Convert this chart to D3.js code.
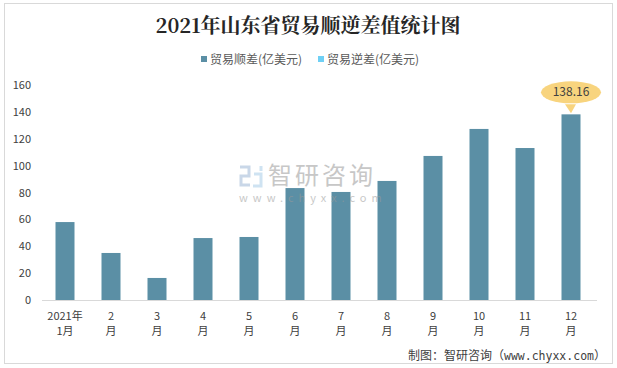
<!DOCTYPE html>
<html><head><meta charset="utf-8">
<script src="https://cdn.jsdelivr.net/npm/d3@7/dist/d3.min.js"></script>
<style>html,body{margin:0;padding:0;background:#fff;}svg{display:block;}</style>
</head><body><svg id="c" width="617" height="368"></svg>
<script>
const title = "2021年山东省贸易顺逆差值统计图";
const categories = ["2021年\n1月","2\n月","3\n月","4\n月","5\n月","6\n月","7\n月","8\n月","9\n月","10\n月","11\n月","12\n月"];
const surplus = [58.0, 35.0, 16.4, 46.1, 46.9, 83.3, 80.4, 88.6, 107.2, 127.3, 113.1, 138.16];
const deficit = [0,0,0,0,0,0,0,0,0,0,0,0];
const seriesNames = ["贸易顺差(亿美元)", "贸易逆差(亿美元)"];
const yTicks = [0,20,40,60,80,100,120,140,160];
const calloutIndex = 11;
const footer = ["制图：智研咨询（", "www.chyxx.com", "）"];

const svg = d3.select("#c");
const font = "'Microsoft YaHei','Noto Sans CJK SC','Noto Sans',sans-serif";
svg.append("rect").attr("x",4.5).attr("y",3.5).attr("width",608).attr("height",360)
  .attr("fill","#fff").attr("stroke","#d9d9d9");

svg.append("text").attr("x",308).attr("y",33).attr("text-anchor","middle")
  .attr("font-family","'Noto Serif CJK SC','Noto Sans CJK SC',serif").attr("font-weight","bold")
  .attr("font-size",20).attr("fill","#262626").text(title);

const x = d3.scaleBand().domain(categories).range([42,594]).paddingInner(0.587).paddingOuter(0.2935);
const y = d3.scaleLinear().domain([0,160]).range([300,85]);

// legend
const colors = ["#5b8fa5","#6fd0f5"];
const lg = svg.append("g").attr("font-family",font).attr("font-size",12).attr("fill","#595959");
[[201,0],[318,1]].forEach(([lx,i])=>{
  lg.append("rect").attr("x",lx).attr("y",56).attr("width",6).attr("height",6).attr("fill",colors[i]);
  lg.append("text").attr("x",lx+9).attr("y",63.5).text(seriesNames[i]);
});

// y axis
const ya = svg.append("g").attr("transform","translate(31,0)")
  .call(d3.axisLeft(y).tickValues(yTicks).tickSize(0).tickPadding(0));
ya.select(".domain").remove();
ya.selectAll("text").attr("font-family",font).attr("font-size",11).attr("fill","#404040");

// bars
svg.append("g").selectAll("rect").data(surplus).join("rect")
  .attr("x",(d,i)=>x(categories[i])).attr("width",x.bandwidth())
  .attr("y",d=>y(d)).attr("height",d=>y(0)-y(d)).attr("fill",colors[0]);

// x axis line
svg.append("line").attr("x1",42).attr("x2",597).attr("y1",300.5).attr("y2",300.5).attr("stroke","#d9d9d9");

// x labels
const xl = svg.append("g").attr("font-family",font).attr("font-size",11).attr("fill","#404040").attr("text-anchor","middle");
categories.forEach(c=>{
  const parts = c.split("\n");
  const t = xl.append("text").attr("x",x(c)+x.bandwidth()/2);
  parts.forEach((p,j)=>t.append("tspan").attr("x",x(c)+x.bandwidth()/2).attr("y",320+j*15).text(p));
});

// callout
const cx = x(categories[calloutIndex])+x.bandwidth()/2;
const cy = y(surplus[calloutIndex]);
const co = svg.append("g");
co.append("path").attr("d",`M${cx-6},${cy-10} L${cx},${cy-1} L${cx+5},${cy-10} Z`).attr("fill","#f8d47e");
co.append("ellipse").attr("cx",cx).attr("cy",cy-22).attr("rx",30).attr("ry",11).attr("fill","#f8d47e");
co.append("text").attr("x",cx).attr("y",cy-18).attr("text-anchor","middle")
  .attr("font-family",font).attr("font-size",12).attr("fill","#404040").text(surplus[calloutIndex].toFixed(2));

// watermark
const wm = svg.append("g").attr("opacity",0.55);
wm.append("path").attr("d","M240,167 h9 v9 h-8 v9 h9").attr("fill","none").attr("stroke","#9db8d6").attr("stroke-width",3);
wm.append("path").attr("d","M261,166 v5 M254,174 h7 v12 h-8").attr("fill","none").attr("stroke","#a9cde8").attr("stroke-width",3);
wm.append("text").attr("x",268).attr("y",184).attr("font-family",font).attr("font-size",24)
  .attr("letter-spacing",3).attr("fill","#9a9a9a").text("智研咨询");
wm.append("text").attr("x",239).attr("y",202).attr("font-family",font).attr("font-size",11)
  .attr("letter-spacing",5).attr("fill","#9a9a9a").text("www.chyxx.com");

// footer
const ft = svg.append("text").attr("x",606).attr("y",360).attr("text-anchor","end")
  .attr("font-family",font).attr("font-size",12).attr("fill","#404040");
ft.append("tspan").text(footer[0]);
ft.append("tspan").attr("font-family","'DejaVu Sans Mono','Liberation Mono',monospace").attr("font-size",11.5).text(footer[1]);
ft.append("tspan").text(footer[2]);
</script></body></html>
